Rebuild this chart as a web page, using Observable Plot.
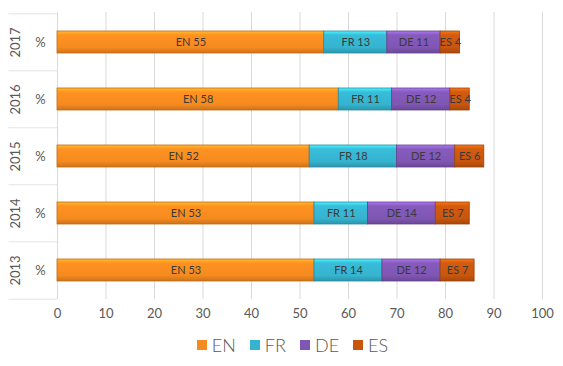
<!DOCTYPE html>
<html>
<head>
<meta charset="utf-8">
<script src="https://cdn.jsdelivr.net/npm/d3@7"></script>
<script src="https://cdn.jsdelivr.net/npm/@observablehq/plot@0.6"></script>
<style>
  html, body { margin: 0; padding: 0; background: #fff; }
  #chart { width: 563px; }
  .legend { display: flex; justify-content: center; align-items: center; gap: 14px; font-family: Lato, "Open Sans", sans-serif; font-weight: 300; font-size: 18px; color: #595959; height: 30px; margin-top: 0px; padding-left: 22px; }
  .legend span.item { display: inline-flex; align-items: center; gap: 5px; }
  .legend span.sw { width: 10px; height: 10px; display: inline-block; }
</style>
</head>
<body>
<div id="chart"></div>
<script>
const years = ["2017", "2016", "2015", "2014", "2013"];
const langs = ["EN", "FR", "DE", "ES"];
const EN = [55, 58, 52, 53, 53];
const FR = [13, 11, 18, 11, 14];
const DE = [11, 12, 12, 14, 12];
const ES = [4, 4, 6, 7, 7];
const colors = ["#f58a1f", "#35b3cf", "#7f56b3", "#c8560e"];
const xTicks = [0, 10, 20, 30, 40, 50, 60, 70, 80, 90, 100];

const series = {EN, FR, DE, ES};
const data = [];
years.forEach((y, i) => langs.forEach(l => data.push({year: y, lang: l, value: series[l][i]})));

const W = 563, H = 330, mt = 12, mb = 31, ml = 57, mr = 21;
const step = (H - mt - mb) / years.length;
const font = "Lato, 'Open Sans', sans-serif";
const grad = l => `url(#grad-${l})`;

const plot = Plot.plot({
  width: W, height: H,
  marginTop: mt, marginBottom: mb, marginLeft: ml, marginRight: mr,
  style: {fontFamily: font, background: "#fff"},
  x: {domain: [0, 100], ticks: xTicks, label: null, tickSize: 0, tickPadding: 9},
  y: {domain: years, paddingInner: 0.62, paddingOuter: 0.31, axis: null},
  marks: [
    Plot.gridX(xTicks, {stroke: "#d9d9d9", strokeOpacity: 1}),
    Plot.ruleY(years, {y: d => d, dy: -step / 2, x1: -10, x2: 0, stroke: "#e3e3e3"}),
    Plot.ruleY(years.slice(-1), {y: d => d, dy: step / 2, x1: -10, x2: 0, stroke: "#e3e3e3"}),
    Plot.barX(data, Plot.stackX({x: "value", y: "year", z: "lang", order: langs, fill: d => grad(d.lang), stroke: d => d3.color(colors[langs.indexOf(d.lang)]).darker(0.7).formatHex(), strokeWidth: 0.8})),
    Plot.text(data, Plot.stackX({x: "value", y: "year", z: "lang", order: langs, text: d => d.lang + " " + d.value, fill: "#3a3a3a", fontSize: 11})),
    Plot.text(years, {y: d => d, x: 0, dx: -42, text: d => d, rotate: -90, fontSize: 13, fill: "#595959"}),
    Plot.text(years, {y: d => d, x: 0, dx: -17, text: () => "%", fontSize: 13, fill: "#595959"}),
    Plot.axisX({ticks: xTicks, tickSize: 0, tickPadding: 9, fontSize: 13, fill: "#595959", label: null})
  ]
});

// gradient definitions for the bar fills
const svg = d3.select(plot);
const defs = svg.insert("defs", ":first-child");
langs.forEach((l, i) => {
  const c = d3.color(colors[i]);
  const g = defs.append("linearGradient").attr("id", "grad-" + l).attr("x1", 0).attr("y1", 0).attr("x2", 0).attr("y2", 1);
  g.append("stop").attr("offset", "0%").attr("stop-color", c.brighter(0.9).formatHex());
  g.append("stop").attr("offset", "18%").attr("stop-color", c.brighter(0.15).formatHex());
  g.append("stop").attr("offset", "75%").attr("stop-color", c.formatHex());
  g.append("stop").attr("offset", "100%").attr("stop-color", c.darker(0.5).formatHex());
});
document.getElementById("chart").appendChild(plot);

const legend = document.createElement("div");
legend.className = "legend";
langs.forEach((l, i) => {
  const it = document.createElement("span");
  it.className = "item";
  it.innerHTML = `<span class="sw" style="background:${colors[i]}"></span>${l}`;
  legend.appendChild(it);
});
document.getElementById("chart").appendChild(legend);
</script>
</body>
</html>
